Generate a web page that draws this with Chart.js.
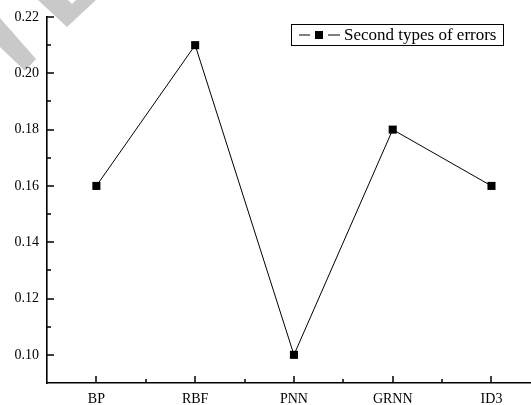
<!DOCTYPE html>
<html>
<head>
<meta charset="utf-8">
<script src="https://cdn.jsdelivr.net/npm/chart.js@4"></script>
<style>
  html, body { margin: 0; padding: 0; background: #fff; }
  canvas { display: block; }
</style>
</head>
<body>
<canvas id="c" width="531" height="405"></canvas>
<script>
// Classifier names along the x axis
const categories = ['BP', 'RBF', 'PNN', 'GRNN', 'ID3'];
// Rate of second-type errors for each classifier
const errorValues = [0.16, 0.21, 0.10, 0.18, 0.16];
// Labelled y ticks and the minor ticks between them
const yMajorTicks = [0.10, 0.12, 0.14, 0.16, 0.18, 0.20, 0.22];
const yMinorTicks = [0.11, 0.13, 0.15, 0.17, 0.19, 0.21];
const seriesName = 'Second types of errors';

const SERIF = '"Liberation Serif", "Times New Roman", serif';

// Light grey strokes in the upper-left corner, painted under everything
const backdrop = {
  id: 'backdrop',
  beforeDraw(chart) {
    const ctx = chart.ctx;
    ctx.save();
    ctx.fillStyle = '#c9c9c9';
    ctx.beginPath();
    ctx.moveTo(0, 18); ctx.lineTo(36, 59); ctx.lineTo(25, 71); ctx.lineTo(0, 47);
    ctx.closePath();
    ctx.fill();
    ctx.beginPath();
    ctx.moveTo(38, 0); ctx.lineTo(67, 27); ctx.lineTo(96, 0);
    ctx.lineTo(76, 0); ctx.lineTo(72, 4); ctx.lineTo(68, 0);
    ctx.closePath();
    ctx.fill();
    ctx.restore();
  }
};

// Inward-pointing major and minor tick marks on both axes
const innerTicks = {
  id: 'innerTicks',
  afterDraw(chart) {
    const ctx = chart.ctx;
    const xs = chart.scales.x, ys = chart.scales.y;
    const left = chart.chartArea.left, bottom = chart.chartArea.bottom;
    ctx.save();
    ctx.strokeStyle = '#000';
    ctx.lineWidth = 1.5;
    ctx.beginPath();
    yMajorTicks.forEach(v => {
      const y = Math.round(ys.getPixelForValue(v));
      ctx.moveTo(left, y); ctx.lineTo(left + 7, y);
    });
    yMinorTicks.forEach(v => {
      const y = Math.round(ys.getPixelForValue(v));
      ctx.moveTo(left, y); ctx.lineTo(left + 4, y);
    });
    categories.forEach((_, i) => {
      const x = Math.round(xs.getPixelForValue(i + 1));
      ctx.moveTo(x, bottom); ctx.lineTo(x, bottom - 7);
    });
    for (let i = 1; i < categories.length; i++) {
      const x = Math.round(xs.getPixelForValue(i + 0.5));
      ctx.moveTo(x, bottom); ctx.lineTo(x, bottom - 4);
    }
    ctx.stroke();
    ctx.restore();
  }
};

// Boxed legend: line - square - line, then the series name
const boxedLegend = {
  id: 'boxedLegend',
  afterDraw(chart) {
    const ctx = chart.ctx;
    const bx = 291.5, by = 24.5, bw = 212, bh = 21;
    const cy = by + bh / 2;
    ctx.save();
    ctx.strokeStyle = '#000';
    ctx.lineWidth = 1;
    ctx.strokeRect(bx, by, bw, bh);
    ctx.beginPath();
    ctx.moveTo(299, cy); ctx.lineTo(310, cy);
    ctx.moveTo(328, cy); ctx.lineTo(340, cy);
    ctx.stroke();
    ctx.fillStyle = '#000';
    ctx.fillRect(315, cy - 4, 8, 8);
    ctx.font = '17px ' + SERIF;
    ctx.textBaseline = 'middle';
    ctx.textAlign = 'left';
    ctx.fillText(seriesName, 344, cy + 1);
    ctx.restore();
  }
};

new Chart(document.getElementById('c'), {
  type: 'line',
  data: {
    datasets: [{
      label: seriesName,
      data: errorValues.map((v, i) => ({ x: i + 1, y: v })),
      borderColor: '#000',
      borderWidth: 1,
      tension: 0,
      pointStyle: 'rect',
      pointRadius: 5.7,
      pointHoverRadius: 5.7,
      pointBackgroundColor: '#000',
      pointBorderWidth: 0,
      clip: false
    }]
  },
  options: {
    responsive: false,
    animation: false,
    devicePixelRatio: 1,
    events: [],
    layout: { autoPadding: false, padding: { top: 17, right: 0, left: 0, bottom: 0 } },
    plugins: { legend: { display: false }, tooltip: { enabled: false } },
    scales: {
      x: {
        type: 'linear',
        min: 0.5,
        max: 5.4,
        grid: { display: false, drawTicks: false },
        border: { display: true, color: '#000', width: 1.6 },
        afterBuildTicks: s => { s.ticks = categories.map((_, i) => ({ value: i + 1 })); },
        afterFit: s => { s.height = 22; s.paddingLeft = 0; s.paddingRight = 0; },
        ticks: {
          padding: 8,
          color: '#000',
          font: { family: SERIF, size: 14 },
          maxRotation: 0,
          autoSkip: false,
          callback: v => categories[Math.round(v) - 1]
        }
      },
      y: {
        min: 0.09,
        max: 0.22,
        grid: { display: false, drawTicks: false },
        border: { display: true, color: '#000', width: 1.6 },
        afterBuildTicks: s => { s.ticks = yMajorTicks.map(v => ({ value: v })); },
        afterFit: s => { s.width = 47; s.paddingTop = 0; s.paddingBottom = 0; },
        ticks: {
          padding: 8,
          color: '#000',
          font: { family: SERIF, size: 14 },
          autoSkip: false,
          callback: v => Number(v).toFixed(2)
        }
      }
    }
  },
  plugins: [backdrop, innerTicks, boxedLegend]
});
</script>
</body>
</html>
